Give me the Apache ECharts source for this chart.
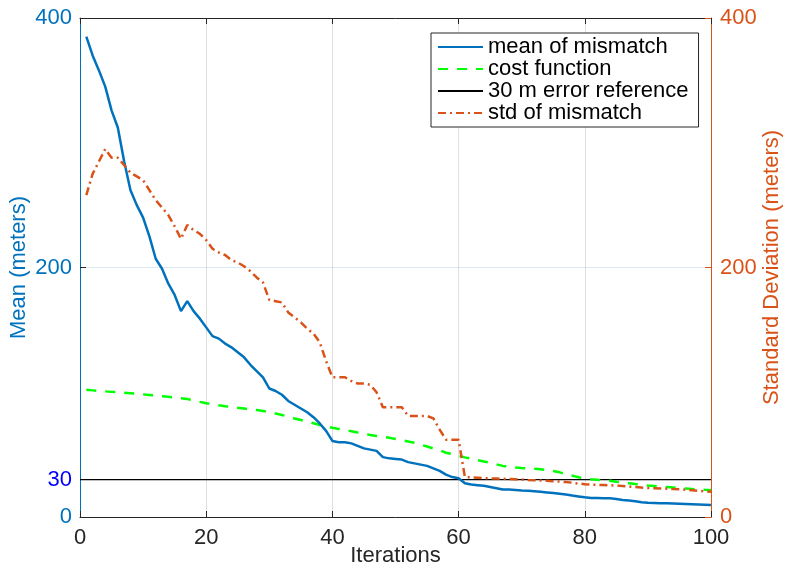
<!DOCTYPE html>
<html>
<head>
<meta charset="utf-8">
<script src="https://cdn.jsdelivr.net/npm/echarts@6/dist/echarts.min.js"></script>
<style>
  html, body { margin: 0; padding: 0; background: #fff; }
  #chart { width: 786px; height: 567px; }
</style>
</head>
<body>
<div id="chart"></div>
<script>
// mean of mismatch (left axis, meters), iterations 1..100
const meanMismatch = [
  385, 370, 358, 345, 326, 312, 285, 262, 250, 240,
  225, 207, 199, 187, 178, 165, 173, 165, 159, 152,
  145, 143, 139, 136, 132, 128, 122, 117, 112, 103,
  101, 98, 93, 90, 87, 84, 80, 75, 69, 61,
  60, 60, 59, 57, 55, 54, 53, 48, 47, 46.5,
  46, 44, 43, 42, 41, 39, 37, 34, 32, 31,
  27, 26, 25.5, 25, 24, 23, 22, 22, 21.7, 21.3,
  21, 20.7, 20.2, 19.7, 19.2, 18.6, 18, 17.2, 16.5, 15.8,
  15.3, 15.2, 15.1, 15, 14.5, 13.7, 13.2, 12.6, 11.9, 11.5,
  11.3, 11.1, 11, 10.9, 10.7, 10.5, 10.3, 10.1, 9.9, 9.6
]

// cost function (left axis)
const costFunction = [
  102, 101.5, 101, 100.7, 100.3, 100, 99.6, 99.2, 98.7, 98.3,
  97.8, 97.3, 96.8, 96.3, 95.7, 95.2, 94.5, 93.5, 92.3, 91.2,
  90.3, 89.5, 88.8, 88.2, 87.5, 86.9, 86.3, 85.7, 85, 84,
  83, 81.8, 80.5, 79, 77.8, 76.5, 75.2, 73.8, 72.5, 71.5,
  70.6, 69.8, 68.8, 67.7, 66.7, 65.8, 65, 64.2, 63.5, 62.6,
  61.5, 60.5, 59.5, 58, 56.5, 55, 53.5, 51.5, 50.5, 49,
  47.8, 46.7, 45.6, 44.5, 43.5, 42.2, 41, 40, 39.7, 39.3,
  39, 38.7, 38.3, 37.6, 36.8, 35.8, 34.5, 33.2, 31.8, 30.8,
  30.2, 29.8, 29.5, 29, 28.2, 27.6, 27, 26.4, 25.8, 25.2,
  24.8, 24.4, 24, 23.6, 23.2, 22.8, 22.4, 22.1, 21.8, 21.6
]

// std of mismatch (right axis)
const stdMismatch = [
  258, 275, 285, 295, 288, 288, 282, 276, 273, 270,
  262, 254, 248, 242, 233, 223, 234, 230, 227, 222,
  215, 212, 210, 206, 204, 201, 197, 192, 188, 174,
  173, 172, 164, 160, 156, 151, 147, 140, 125, 112,
  112, 112, 109, 107, 107, 106, 100, 88, 88, 88,
  88, 81, 81, 81, 81, 79, 70, 62, 62, 62,
  32, 31.8, 31.5, 31.2, 31, 30.8, 30.6, 30.4, 30.2, 30,
  29.7, 29.5, 29.2, 29, 28.7, 28.4, 28, 27.5, 26.8, 26.3,
  26, 25.8, 25.6, 25.4, 25.2, 24.9, 24.5, 24, 23.6, 23.3,
  23.1, 22.9, 22.7, 22.4, 22.2, 21.8, 21.4, 21, 20.6, 20.3
]

const errorReference = [[0, 30], [100, 30]]
const leftTicks = [0, 30, 200, 400]
const rightTicks = [0, 200, 400]

const toPoints = (arr) => arr.map((v, i) => [i + 1, v])

const FONT = '"Liberation Sans", Arial, sans-serif'
const BLUE = '#0072BD'
const ORANGE = '#D95319'
const DARK = '#262626'

const chart = echarts.init(document.getElementById('chart'))

const option = {
  animation: false,
  textStyle: { fontFamily: FONT },
  grid: { left: 80, right: 75, top: 18, bottom: 50, outerBoundsMode: 'none', containLabel: false },
  legend: {
    orient: 'vertical',
    left: 431,
    top: 33,
    padding: [3, 10, 3, 6],
    itemGap: 0,
    itemWidth: 45,
    itemHeight: 20,
    borderColor: DARK,
    borderWidth: 1,
    backgroundColor: '#fff',
    itemStyle: { opacity: 0 },
    textStyle: { fontSize: 22, color: '#000', fontFamily: FONT, padding: [0, 0, 0, 0] },
    data: ['mean of mismatch', 'cost function', '30 m error reference', 'std of mismatch']
  },
  xAxis: [
    {
      type: 'value',
      min: 0,
      max: 100,
      interval: 20,
      name: 'Iterations',
      nameLocation: 'middle',
      nameGap: 28,
      nameMoveOverlap: false,
      nameTextStyle: { fontSize: 22, color: DARK },
      axisLine: { onZero: false, lineStyle: { color: DARK, width: 1 } },
      axisTick: { inside: true, length: 6, lineStyle: { color: DARK } },
      axisLabel: { fontSize: 22, color: DARK, margin: 10 },
      splitLine: { show: true, lineStyle: { color: 'rgba(38,38,38,0.15)' } }
    },
    {
      type: 'value',
      position: 'top',
      min: 0,
      max: 100,
      interval: 20,
      axisLine: { show: true, onZero: false, lineStyle: { color: DARK, width: 1 } },
      axisTick: { show: true, inside: true, length: 6, lineStyle: { color: DARK } },
      axisLabel: { show: false },
      splitLine: { show: false }
    }
  ],
  yAxis: [
    {
      type: 'value',
      position: 'left',
      min: 0,
      max: 400,
      interval: 200,
      name: 'Mean (meters)',
      nameLocation: 'middle',
      nameGap: 50,
      nameMoveOverlap: false,
      nameTextStyle: { fontSize: 22, color: BLUE },
      axisLine: { show: true, onZero: false, lineStyle: { color: BLUE, width: 1 } },
      axisTick: { show: true, inside: true, length: 6, customValues: leftTicks, lineStyle: { color: DARK } },
      axisLabel: {
        fontSize: 22,
        margin: 8,
        customValues: leftTicks,
        color: (v) => (Number(v) === 30 ? '#0000FF' : BLUE)
      },
      splitLine: { show: true, lineStyle: { color: 'rgba(0,114,189,0.15)' } }
    },
    {
      type: 'value',
      position: 'right',
      min: 0,
      max: 400,
      interval: 200,
      name: 'Standard Deviation (meters)',
      nameLocation: 'middle',
      nameGap: 50,
      nameRotate: 90,
      nameMoveOverlap: false,
      nameTextStyle: { fontSize: 22, color: ORANGE },
      axisLine: { show: true, onZero: false, lineStyle: { color: ORANGE, width: 1 } },
      axisTick: { show: true, inside: true, length: 6, customValues: rightTicks, lineStyle: { color: ORANGE } },
      axisLabel: { fontSize: 22, color: ORANGE, margin: 9, customValues: rightTicks },
      splitLine: { show: false }
    }
  ],
  series: [
    {
      name: 'mean of mismatch',
      type: 'line',
      data: toPoints(meanMismatch),
      symbol: 'none',
      z: 4,
      itemStyle: { color: BLUE },
      lineStyle: { color: BLUE, width: 2.5 }
    },
    {
      name: 'cost function',
      type: 'line',
      data: toPoints(costFunction),
      symbol: 'none',
      z: 3,
      itemStyle: { color: '#00FF00' },
      lineStyle: { color: '#00FF00', width: 2.5, type: [10, 9] }
    },
    {
      name: '30 m error reference',
      type: 'line',
      data: errorReference,
      symbol: 'none',
      z: 2,
      itemStyle: { color: '#000' },
      lineStyle: { color: '#000', width: 1.2 }
    },
    {
      name: 'std of mismatch',
      type: 'line',
      yAxisIndex: 1,
      data: toPoints(stdMismatch),
      symbol: 'none',
      z: 5,
      itemStyle: { color: ORANGE },
      lineStyle: { color: ORANGE, width: 2.5, type: [8, 4, 2, 4] }
    }
  ]
}

chart.setOption(option)
</script>
</body>
</html>
